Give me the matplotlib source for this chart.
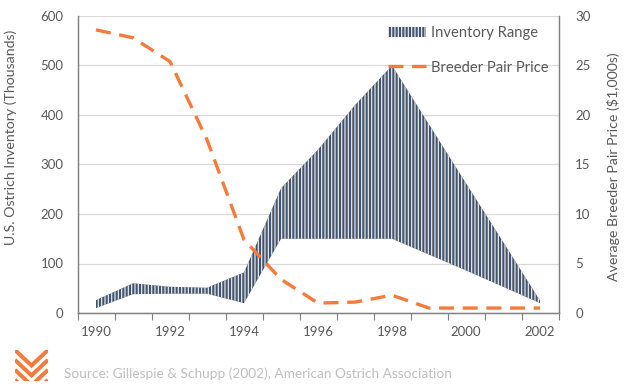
import numpy as np
import matplotlib.pyplot as plt
from matplotlib.patches import Patch
from matplotlib.lines import Line2D

plt.rcParams['font.family'] = ['Lato', 'DejaVu Sans']
plt.rcParams['hatch.linewidth'] = 0.9

# data
years = [1990, 1991, 1992, 1993, 1994, 1995, 1996, 1997, 1998, 1999, 2000, 2001, 2002]
inv_low = [10, 38, 39, 39, 20, 150, 150, 150, 150, 118, 86, 53, 20]
inv_high = [26, 60, 53, 51, 82, 252, 330, 420, 500, 381, 262, 144, 25]
price = [28.6, 27.8, 25.4, 17.5, 7.4, 3.4, 1.0, 1.1, 1.8, 0.5, 0.5, 0.5, 0.5]

navy = '#44546A'
orange = '#F47B3C'
gray_txt = '#595959'

fig = plt.figure(figsize=(6.24, 3.87), dpi=100)
ax = fig.add_axes([77.5/624, 1-313/387, (558.5-77.5)/624, (313-16)/387])
ax2 = ax.twinx()

ax.fill_between(years, inv_low, inv_high, facecolor=navy, edgecolor='#E4E8EE',
                hatch='|||||', linewidth=0, zorder=2)
ax2.plot(years, price, color=orange, lw=2.4, dashes=(4.5, 2.6), zorder=3)

ax.set_xlim(1989.5, 2002.5)
ax.set_ylim(0, 600)
ax2.set_ylim(0, 30)
ax.set_yticks(range(0, 601, 100))
ax2.set_yticks(range(0, 31, 5))
ax.set_xticks(years[::2])
ax.set_xticks(np.arange(1989.5, 2003, 1), minor=True)
ax.tick_params(axis='x', which='major', length=0, pad=9, labelsize=9.5, labelcolor=gray_txt)
ax.tick_params(axis='x', which='minor', length=5, color='#808080', width=0.8)
ax.tick_params(axis='y', length=0, pad=10, labelsize=9.5, labelcolor=gray_txt)
ax2.tick_params(axis='y', length=0, pad=12, labelsize=9.5, labelcolor=gray_txt)

ax.grid(axis='y', color='#D9D9D9', lw=0.9, zorder=0)
ax.set_axisbelow(True)
for a in (ax, ax2):
    a.spines['top'].set_visible(False)
    for s in ('left', 'bottom', 'right'):
        a.spines[s].set_color('#808080')
        a.spines[s].set_linewidth(0.9)

ax.set_ylabel('U.S. Ostrich Inventory (Thousands)', color=gray_txt, fontsize=10.2)
ax.yaxis.set_label_coords(-0.125, 0.59)
ax2.set_ylabel('Average Breeder Pair Price ($1,000s)', color=gray_txt, fontsize=10.2)
ax2.yaxis.set_label_coords(1.1, 0.493)

handles = [Patch(facecolor=navy, edgecolor='#E4E8EE', hatch='|||||', lw=0),
           Line2D([0], [0], color=orange, lw=2.4, dashes=(4.5, 2.6))]
ax2.legend(handles, ['Inventory Range', 'Breeder Pair Price'], loc='upper right',
           bbox_to_anchor=(1.0, 1.0), frameon=False, fontsize=10.6,
           labelcolor=gray_txt, handlelength=2.6, handletextpad=0.3,
           labelspacing=1.38, borderaxespad=0.3)

fig.text(64/624, 1-374/387, 'Source: Gillespie & Schupp (2002), American Ostrich Association',
         color='#BFBFBF', fontsize=9.8, va='center', ha='left')

# small chevron logo
lg = fig.add_axes([15/624, 1-381/387, 33/624, 31/387])
lg.set_xlim(0, 1)
lg.set_ylim(0, 1)
lg.axis('off')
for y0 in (0.5, 0.18, -0.14, -0.46):
    lg.plot([0, 0.5, 1], [y0 + 0.5, y0, y0 + 0.5], color=orange, lw=2.9,
            solid_joinstyle='miter', solid_capstyle='butt', clip_on=True)

fig.savefig('out.png', dpi=100)
